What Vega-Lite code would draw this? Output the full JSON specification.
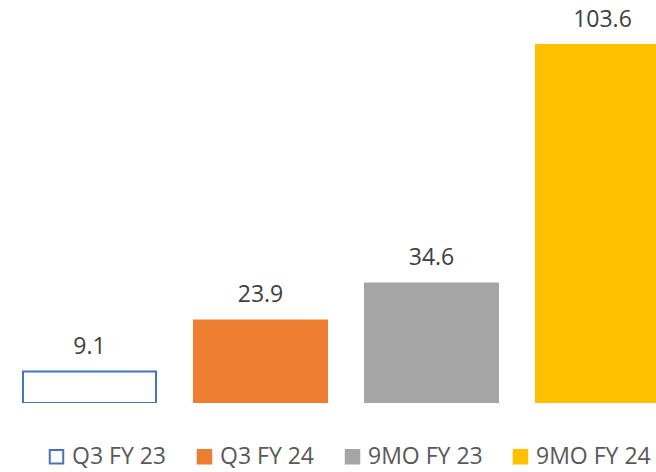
{
  "$schema": "https://vega.github.io/schema/vega-lite/v6.json",
  "width": 656,
  "height": 403,
  "autosize": {"type": "none"},
  "padding": {"left": 0, "top": 0, "right": 0, "bottom": 69},
  "background": "white",
  "config": {"view": {"stroke": null}},
  "data": {
    "values": [
      {"period": "Q3 FY 23", "value": 9.1},
      {"period": "Q3 FY 24", "value": 23.9},
      {"period": "9MO FY 23", "value": 34.6},
      {"period": "9MO FY 24", "value": 103.6}
    ]
  },
  "encoding": {
    "x": {
      "field": "period",
      "type": "nominal",
      "sort": null,
      "scale": {"range": [0, 692], "paddingInner": 0.2222, "paddingOuter": 0.1345},
      "axis": null
    },
    "y": {
      "field": "value",
      "type": "quantitative",
      "scale": {"domain": [0, 116.6], "nice": false},
      "axis": null
    }
  },
  "layer": [
    {
      "mark": {"type": "bar", "strokeWidth": 2, "clip": true},
      "encoding": {
        "fill": {
          "field": "period",
          "type": "nominal",
          "sort": null,
          "scale": {"range": ["#ffffff", "#ED7D31", "#A5A5A5", "#FFC000"]},
          "legend": {
            "orient": "none",
            "legendX": 45,
            "legendY": 445,
            "direction": "horizontal",
            "columns": 4,
            "title": null,
            "padding": 0,
            "symbolType": "square",
            "symbolSize": 182,
            "symbolStrokeWidth": 2,
            "labelFont": "Open Sans",
            "labelFontSize": 23,
            "labelColor": "#595959",
            "labelOffset": 4,
            "labelLimit": 300,
            "columnPadding": 26
          }
        },
        "stroke": {
          "field": "period",
          "type": "nominal",
          "sort": null,
          "scale": {"range": ["#4472C4", "#ED7D31", "#A5A5A5", "#FFC000"]},
          "legend": {
            "orient": "none",
            "legendX": 45,
            "legendY": 445,
            "direction": "horizontal",
            "columns": 4,
            "title": null,
            "padding": 0,
            "symbolType": "square",
            "symbolSize": 182,
            "symbolStrokeWidth": 2,
            "labelFont": "Open Sans",
            "labelFontSize": 23,
            "labelColor": "#595959",
            "labelOffset": 4,
            "labelLimit": 300,
            "columnPadding": 26
          }
        }
      }
    },
    {
      "mark": {
        "type": "text",
        "baseline": "alphabetic",
        "dy": -18,
        "font": "Open Sans",
        "fontSize": 23,
        "color": "#404040"
      },
      "encoding": {
        "text": {"field": "value", "type": "quantitative", "format": ".1f"}
      }
    }
  ]
}
